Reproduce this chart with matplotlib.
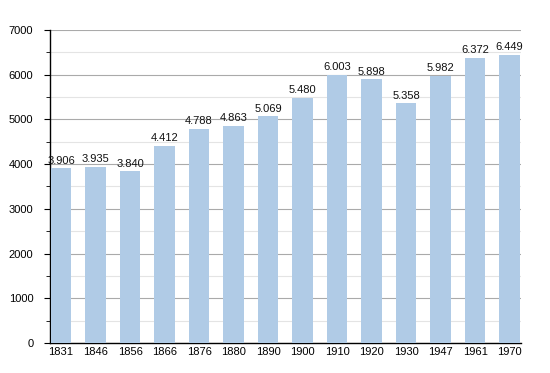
import numpy as np
import matplotlib.pyplot as plt
from matplotlib.ticker import MultipleLocator

anni = ['1831', '1846', '1856', '1866', '1876', '1880', '1890',
        '1900', '1910', '1920', '1930', '1947', '1961', '1970']
abitanti = [3906, 3935, 3840, 4412, 4788, 4863, 5069,
            5480, 6003, 5898, 5358, 5982, 6372, 6449]
etichette = ['3.906', '3.935', '3.840', '4.412', '4.788', '4.863', '5.069',
             '5.480', '6.003', '5.898', '5.358', '5.982', '6.372', '6.449']

plt.rcParams['font.family'] = ['Liberation Sans', 'DejaVu Sans']

fig = plt.figure(figsize=(5.5, 3.73), dpi=100)
ax = fig.add_axes([50 / 550, 30 / 373, 471 / 550, 313 / 373])

x = np.arange(len(anni))
ax.bar(x, abitanti, width=0.6, color='#b0cbe6', zorder=3)

# etichette sopra le barre
for xi, v, t in zip(x, abitanti, etichette):
    ax.text(xi, v + 60, t, ha='center', va='bottom', fontsize=8, color='#111111', zorder=4)

ax.set_xlim(-0.32, 13.33)
ax.set_ylim(0, 7000)
ax.set_xticks(x)
ax.set_xticklabels(anni)
ax.yaxis.set_major_locator(MultipleLocator(1000))
ax.yaxis.set_minor_locator(MultipleLocator(500))

ax.grid(True, which='major', axis='y', color='#aaaaaa', linewidth=0.8, zorder=0)
ax.grid(True, which='minor', axis='y', color='#e4e4e4', linewidth=0.8, zorder=0)

for s in ['top', 'right']:
    ax.spines[s].set_visible(False)
ax.spines['left'].set_linewidth(1)
ax.spines['bottom'].set_linewidth(1)

ax.tick_params(axis='y', which='major', length=4, labelsize=8, pad=8)
ax.tick_params(axis='y', which='minor', length=3)
ax.tick_params(axis='x', length=0, labelsize=8, pad=3)

plt.savefig('out.png', dpi=100)
